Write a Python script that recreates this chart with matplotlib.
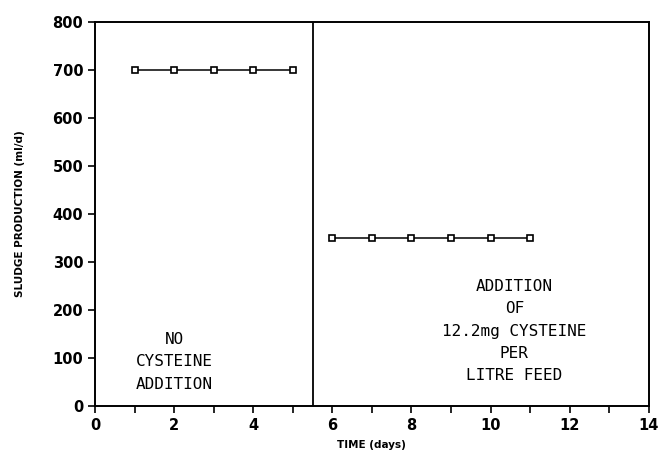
import matplotlib
matplotlib.use("Agg")
import matplotlib.pyplot as plt
from matplotlib.ticker import MultipleLocator

# Data
days_before = [1, 2, 3, 4, 5]
sludge_before = [700, 700, 700, 700, 700]
days_after = [6, 7, 8, 9, 10, 11]
sludge_after = [350, 350, 350, 350, 350, 350]
change_day = 5.5
x_ticks = [0, 2, 4, 6, 8, 10, 12, 14]
y_ticks = [0, 100, 200, 300, 400, 500, 600, 700, 800]

fig = plt.figure(figsize=(6.6, 4.59), dpi=100)
ax = fig.add_axes([0.144, 0.1155, 0.839, 0.8365])

mk = dict(marker='s', markersize=5, markerfacecolor='white', markeredgecolor='black',
          markeredgewidth=1.2, color='black', linewidth=1.1)
ax.plot(days_before, sludge_before, **mk)
ax.plot(days_after, sludge_after, **mk)
ax.axvline(change_day, color='black', linewidth=1.3)

ax.set_xlim(0, 14)
ax.set_ylim(0, 800)
ax.set_xticks(x_ticks)
ax.set_yticks(y_ticks)
ax.xaxis.set_minor_locator(MultipleLocator(1))
ax.tick_params(axis='both', which='both', direction='out', width=1.2, color='black')
ax.tick_params(axis='both', which='major', length=5, labelsize=10.5)
ax.tick_params(axis='x', which='minor', length=5)
for lab in ax.get_xticklabels() + ax.get_yticklabels():
    lab.set_fontweight('bold')
for s in ax.spines.values():
    s.set_linewidth(1.4)

ax.set_xlabel('TIME (days)', fontsize=7.5, fontweight='bold', labelpad=5)
ax.set_ylabel('SLUDGE PRODUCTION (ml/d)', fontsize=7.5, fontweight='bold', labelpad=20)

mono = dict(family='DejaVu Sans Mono', fontsize=11.5, ha='center', va='center',
            linespacing=1.62)
ax.text(2.0, 92, 'NO\nCYSTEINE\nADDITION', **mono)
ax.text(10.6, 156, 'ADDITION\nOF\n12.2mg CYSTEINE\nPER\nLITRE FEED', **mono)

fig.savefig('out.png', dpi=100)
